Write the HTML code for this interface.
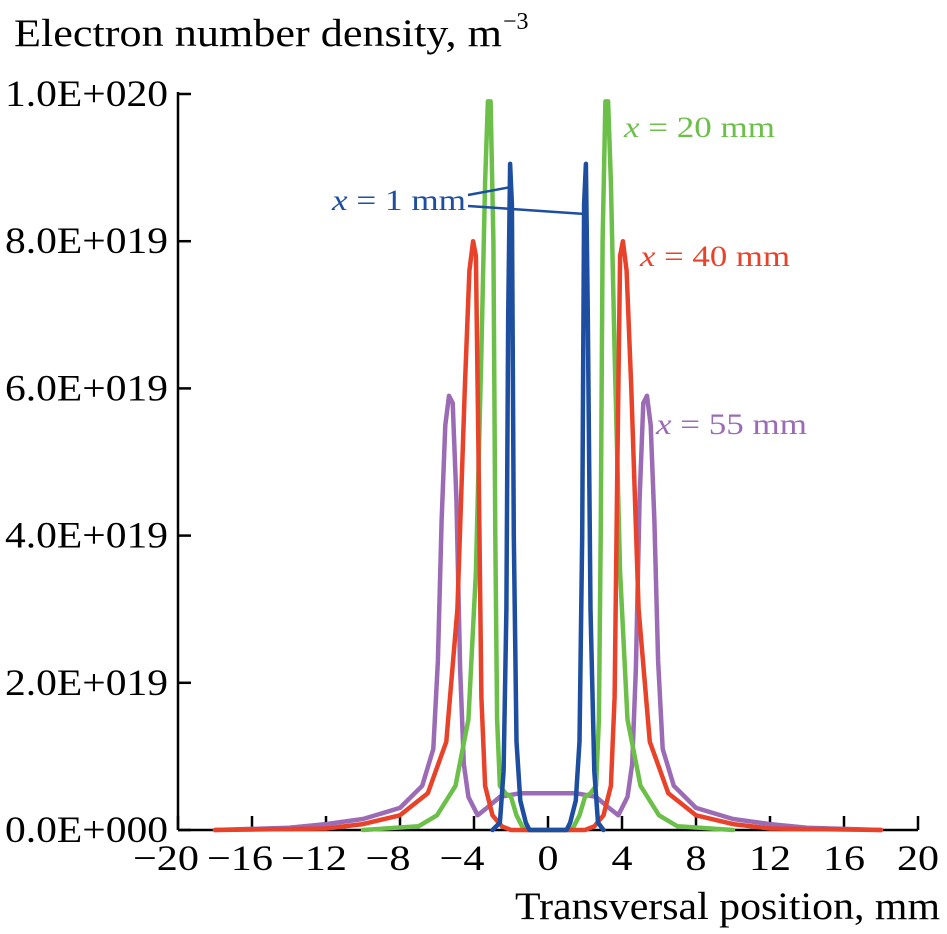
<!DOCTYPE html>
<html><head><meta charset="utf-8"><style>
body{margin:0;background:#fff;}
svg{display:block;font-family:"Liberation Serif",serif;}
</style></head><body>
<svg id="chart" width="947" height="934" viewBox="0 0 947 934" xmlns="http://www.w3.org/2000/svg">
<text x="14" y="46" font-size="39" textLength="488" lengthAdjust="spacingAndGlyphs">Electron number density, m</text>
<text x="503" y="29" font-size="24">−3</text>
<text x="515" y="919" font-size="39" textLength="425" lengthAdjust="spacingAndGlyphs">Transversal position, mm</text>
<g id="axes"></g>
<g id="series"></g>
<g>
<text x="624" y="137" font-size="30" fill="#6cc04a" textLength="151" lengthAdjust="spacingAndGlyphs"><tspan font-style="italic">x</tspan> = 20 mm</text>
<text x="332" y="210" font-size="30" fill="#1d4ea0" textLength="134" lengthAdjust="spacingAndGlyphs"><tspan font-style="italic">x</tspan> = 1 mm</text>
<text x="640" y="266" font-size="30" fill="#e8432a" textLength="150" lengthAdjust="spacingAndGlyphs"><tspan font-style="italic">x</tspan> = 40 mm</text>
<text x="656" y="434" font-size="30" fill="#9b6bb5" textLength="151" lengthAdjust="spacingAndGlyphs"><tspan font-style="italic">x</tspan> = 55 mm</text>
<line x1="468" y1="195" x2="511" y2="187" stroke="#1d4ea0" stroke-width="2.5"/>
<line x1="468" y1="206" x2="585" y2="214" stroke="#1d4ea0" stroke-width="2.5"/>
</g>
</svg>
<script>
const xTicks=[-20,-16,-12,-8,-4,0,4,8,12,16,20];
const yTicks=[0,2,4,6,8,10];
const yTickLabels=["0.0E+000","2.0E+019","4.0E+019","6.0E+019","8.0E+019","1.0E+020"];
// x in mm, density in units of 1e19 m^-3
const blueX=[-3.0,-2.6,-2.4,-2.25,-2.15,-2.05,-1.95,-1.85,-1.7,-1.5,-1.2,-1.0,1.0,1.2,1.5,1.7,1.85,1.95,2.05,2.15,2.3,2.5,2.7,3.0];
const blueY=[0,0.1,0.8,3,7,9.05,8.5,4,1.2,0.4,0.1,0,0,0.1,0.4,1.2,4,8.5,9.05,7,3,0.8,0.1,0];
const greenX=[-10,-7,-6,-5,-4.3,-3.9,-3.6,-3.4,-3.25,-3.1,-2.95,-2.85,-2.75,-2.6,-2.3,-2.0,-1.7,-1.4,-1.2,1.2,1.4,1.7,2.0,2.3,2.6,2.75,2.85,2.95,3.1,3.25,3.4,3.6,3.9,4.3,5,6,7,10];
const greenY=[0,0.05,0.2,0.6,1.5,3.5,6.5,8.8,9.9,9.9,8,4,1.5,0.6,0.5,0.45,0.2,0.05,0,0,0.05,0.2,0.45,0.5,0.6,1.5,4,8,9.9,9.9,8.8,6.5,3.5,1.5,0.6,0.2,0.05,0];
const redX=[-18,-12,-10,-8,-6.5,-5.5,-4.9,-4.5,-4.25,-4.05,-3.9,-3.75,-3.6,-3.4,-3.0,-2.5,-2.0,2.0,2.5,3.0,3.4,3.6,3.75,3.9,4.05,4.25,4.5,4.9,5.5,6.5,8,10,12,18];
const redY=[0,0.02,0.08,0.2,0.5,1.2,3,6,7.6,8.0,7.8,5,1.8,0.6,0.2,0.05,0,0,0.05,0.2,0.6,1.8,5,7.8,8.0,7.6,6,3,1.2,0.5,0.2,0.08,0.02,0];
const purpleX=[-18,-14,-12,-10,-8,-6.8,-6.2,-5.95,-5.75,-5.55,-5.35,-5.15,-4.95,-4.75,-4.55,-4.3,-3.8,-3.3,-2.6,-1.5,0,1.5,2.6,3.3,3.8,4.3,4.55,4.75,4.95,5.15,5.35,5.55,5.75,5.95,6.2,6.8,8,10,12,14,18];
const purpleY=[0,0.03,0.08,0.15,0.3,0.6,1.1,2.3,4.2,5.5,5.9,5.8,4.5,2.2,0.9,0.45,0.2,0.3,0.45,0.5,0.5,0.5,0.45,0.3,0.2,0.45,0.9,2.2,4.5,5.8,5.9,5.5,4.2,2.3,1.1,0.6,0.3,0.15,0.08,0.03,0];

const NS="http://www.w3.org/2000/svg";
const X0=178,X1=918,Y0=830,Y1=94;
function sx(v){return X0+(v+20)/40*(X1-X0);}
function sy(v){return Y0-v/10*(Y0-Y1);}
function mk(tag,attrs,parent){const e=document.createElementNS(NS,tag);for(const k in attrs)e.setAttribute(k,attrs[k]);parent.appendChild(e);return e;}
const axes=document.getElementById('axes');
let yl=mk('line',{x1:X0,y1:Y0,x2:X0,y2:Y1-2,stroke:'#000','stroke-width':2.5},axes);


let xl=mk('line',{x1:X0,y1:Y0,x2:X1,y2:Y0,stroke:'#000','stroke-width':2.5},axes);


yTicks.forEach((v,i)=>{
 let t=mk('line',{x1:X0,y1:sy(v),x2:X0+13,y2:sy(v),stroke:'#000','stroke-width':2.5},axes);
 
 
 let l=mk('text',{x:5,y:sy(v)+12,'font-size':37,textLength:163,lengthAdjust:'spacingAndGlyphs'},axes);
 l.textContent=yTickLabels[i];
 
 
});
xTicks.forEach(v=>{
 let t=mk('line',{x1:sx(v),y1:Y0,x2:sx(v),y2:Y0-14,stroke:'#000','stroke-width':2.5},axes);
 
 
 const s=v<0?('−'+Math.abs(v)):String(v);
 const w=(v<0?24:0)+(Math.abs(v)>=10?42:21);
 const cx=sx(v)-(v<0?12:0);
 let l=mk('text',{x:cx-w/2,y:870,'font-size':36,textLength:w,lengthAdjust:'spacingAndGlyphs'},axes);
 l.textContent=s;
 
 
});
const ser=document.getElementById('series');
function draw(xs,ys,color,name){
 const d=xs.map((x,i)=>(i?'L':'M')+sx(x).toFixed(1)+','+sy(ys[i]).toFixed(1)).join(' ');
 const p=mk('path',{d:d,fill:'none',stroke:color,'stroke-width':4.5,'stroke-linejoin':'round','stroke-linecap':'round'},ser);
 
 
}
draw(purpleX,purpleY,'#9b6bb5','series-x55');
draw(greenX,greenY,'#6cc04a','series-x20');
draw(redX,redY,'#e8432a','series-x40');
draw(blueX,blueY,'#1d4ea0','series-x1');
</script>
</body></html>
